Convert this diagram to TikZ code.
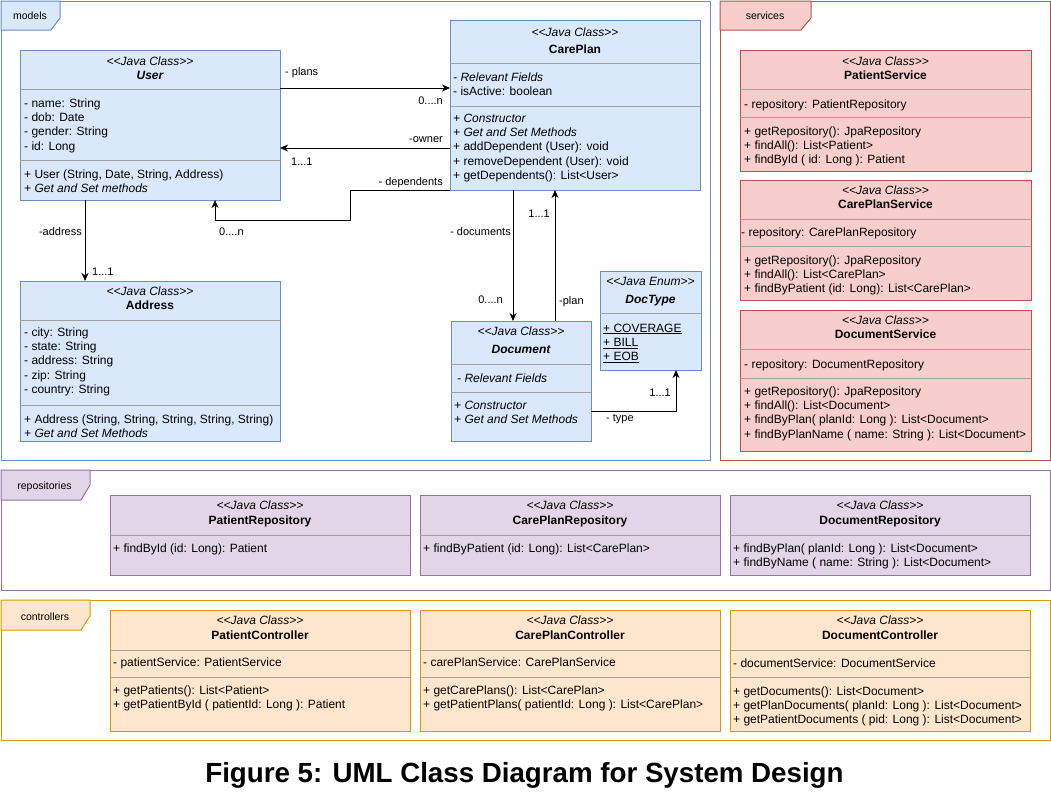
\documentclass[tikz,border=0pt]{standalone}
\usepackage{fontspec}
\setmainfont{Liberation Sans}[Ligatures=TeXOff]
\usepackage{tikz}
\usetikzlibrary{arrows.meta}
\definecolor{mfill}{HTML}{DAE8FC}
\definecolor{mline}{HTML}{6C8EBF}
\definecolor{sfill}{HTML}{F8CECC}
\definecolor{sline}{HTML}{B85450}
\definecolor{rfill}{HTML}{E1D5E7}
\definecolor{rline}{HTML}{9673A6}
\definecolor{cfill}{HTML}{FFE6CC}
\definecolor{cline}{HTML}{D79B00}
\definecolor{sepgray}{HTML}{A0A0A0}

\begin{document}
\begin{tikzpicture}[x=1pt, y=-1pt,
	pkg/.style={draw, line width=1pt, anchor=north west, inner sep=0, outer sep=0},
	pkgtab/.style={line width=1pt},
	pkglabel/.style={font=\fontsize{10.5}{12}\selectfont, inner sep=0},
	classbox/.style={draw, line width=1pt, anchor=north west, inner sep=0, outer sep=0},
	mbox/.style={classbox, fill=mfill, draw=mline},
	sbox/.style={classbox, fill=sfill, draw=sline},
	rbox/.style={classbox, fill=rfill, draw=rline},
	cbox/.style={classbox, fill=cfill, draw=cline},
	stereo/.style={font=\fontsize{12}{14.4}\selectfont\itshape, anchor=base, inner sep=0},
	cname/.style={font=\fontsize{12}{14.4}\selectfont\bfseries, anchor=base, inner sep=0},
	aname/.style={font=\fontsize{12}{14.4}\selectfont\bfseries\itshape, anchor=base, inner sep=0},
	member/.style={font=\fontsize{12}{14.4}\selectfont, anchor=base west, align=left, inner sep=0},
	sepline/.style={draw=sepgray, line width=1pt},
	role/.style={font=\fontsize{11}{13}\selectfont, inner sep=0},
	assoc/.style={line width=1pt, -{Stealth[length=8pt, width=7pt, inset=2.5pt]}}
]
\useasboundingbox (0,0) rectangle (1051,796);
\fill[white] (0,0) rectangle (1051,796);

% packages
\node[pkg, draw=mline, minimum width=709, minimum height=459] (models) at (1,1) {};
\node[pkg, draw=sline, minimum width=330, minimum height=459] (services) at (720,1) {};
\node[pkg, draw=rline, minimum width=1049, minimum height=120] (repos) at (1,470) {};
\node[pkg, draw=cline, minimum width=1049, minimum height=140] (ctrls) at (1,600) {};
\draw[pkgtab, fill=mfill, draw=mline] (models.north west) -- ++(59,0) -- ++(0,17) -- ++(-9,12) -- (models.west |- 0,30) -- cycle;
\draw[pkgtab, fill=sfill, draw=sline] (services.north west) -- ++(91,0) -- ++(0,17) -- ++(-10,12) -- (services.west |- 0,30) -- cycle;
\draw[pkgtab, fill=rfill, draw=rline] (repos.north west) -- ++(89,0) -- ++(0,15) -- ++(-9,15) -- (repos.west |- 0,500) -- cycle;
\draw[pkgtab, fill=cfill, draw=cline] (ctrls.north west) -- ++(89,0) -- ++(0,16) -- ++(-9,14) -- (ctrls.west |- 0,630) -- cycle;
\node[pkglabel] (models-lb) at (30,16) {models};
\node[pkglabel] (services-lb) at (765,16) {services};
\node[pkglabel] (repos-lb) at (44.5,487) {repositories};
\node[pkglabel] (ctrls-lb) at (45,617) {controllers};

% models (member nodes sit on their last baseline)
\node[mbox, minimum width=260, minimum height=150] (user) at (20,50) {};
\node[stereo] (user-st) at (150,65) {<<Java Class>>};
\node[aname] (user-nm) at (150,79) {User};
\draw[sepline] (user.west |- 0,89) -- (user.east |- 0,89);
\draw[sepline] (user.west |- 0,160) -- (user.east |- 0,160);
\node[member] (user-at) at (24,150.2) {- name: String\\- dob: Date\\- gender: String\\- id: Long};
\node[member] (user-op) at (24,192.4) {+ User (String, Date, String, Address)\\\textit{+ Get and Set methods}};

\node[mbox, minimum width=250, minimum height=170] (careplan) at (450,20) {};
\node[stereo] (careplan-st) at (575,36) {<<Java Class>>};
\node[cname] (careplan-nm) at (575,53) {CarePlan};
\draw[sepline] (careplan.west |- 0,63) -- (careplan.east |- 0,63);
\draw[sepline] (careplan.west |- 0,106) -- (careplan.east |- 0,106);
\node[member] (careplan-at) at (453,95.4) {\textit{- Relevant Fields}\\- isActive: boolean};
\node[member] (careplan-op) at (453,179.6) {\textit{+ Constructor}\\\textit{+ Get and Set Methods}\\+ addDependent (User): void\\+ removeDependent (User): void\\+ getDependents(): List<User>};

\node[mbox, minimum width=260, minimum height=160] (address) at (20,281) {};
\node[stereo] (address-st) at (150,295) {<<Java Class>>};
\node[cname] (address-nm) at (150,309) {Address};
\draw[sepline] (address.west |- 0,320) -- (address.east |- 0,320);
\draw[sepline] (address.west |- 0,405) -- (address.east |- 0,405);
\node[member] (address-at) at (24,393.6) {- city: String\\- state: String\\- address: String\\- zip: String\\- country: String};
\node[member] (address-op) at (24,437.4) {+ Address (String, String, String, String, String)\\\textit{+ Get and Set Methods}};

\node[mbox, minimum width=140, minimum height=120] (document) at (451,321) {};
\node[stereo] (document-st) at (521,335) {<<Java Class>>};
\node[aname] (document-nm) at (521,353) {Document};
\draw[sepline] (document.west |- 0,364) -- (document.east |- 0,364);
\draw[sepline] (document.west |- 0,392) -- (document.east |- 0,392);
\node[member] (document-at) at (457,382) {\textit{- Relevant Fields}};
\node[member] (document-op) at (454,423.4) {\textit{+ Constructor}\\\textit{+ Get and Set Methods}};

\node[mbox, minimum width=101, minimum height=99] (doctype) at (600,271) {};
\node[stereo] (doctype-st) at (650.5,285) {<<Java Enum>>};
\node[aname] (doctype-nm) at (650.5,303) {DocType};
\draw[sepline] (doctype.west |- 0,313) -- (doctype.east |- 0,313);
\node[member] (doctype-at) at (603,360.8) {\underline{+ COVERAGE}\\\underline{+ BILL}\\\underline{+ EOB}};

% services
\node[sbox, minimum width=291, minimum height=121] (patsrv) at (740,50) {};
\node[stereo] (patsrv-st) at (885.5,65) {<<Java Class>>};
\node[cname] (patsrv-nm) at (885.5,79) {PatientService};
\draw[sepline] (patsrv.west |- 0,89) -- (patsrv.east |- 0,89);
\draw[sepline] (patsrv.west |- 0,117) -- (patsrv.east |- 0,117);
\node[member] (patsrv-at) at (744,108) {- repository: PatientRepository};
\node[member] (patsrv-op) at (744,163.8) {+ getRepository(): JpaRepository\\+ findAll(): List<Patient>\\+ findById ( id: Long ): Patient};

\node[sbox, minimum width=291, minimum height=120] (plansrv) at (740,180) {};
\node[stereo] (plansrv-st) at (885.5,194) {<<Java Class>>};
\node[cname] (plansrv-nm) at (885.5,208) {CarePlanService};
\draw[sepline] (plansrv.west |- 0,219) -- (plansrv.east |- 0,219);
\draw[sepline] (plansrv.west |- 0,246) -- (plansrv.east |- 0,246);
\node[member] (plansrv-at) at (741,236) {- repository: CarePlanRepository};
\node[member] (plansrv-op) at (744,292.8) {+ getRepository(): JpaRepository\\+ findAll(): List<CarePlan>\\+ findByPatient (id: Long): List<CarePlan>};

\node[sbox, minimum width=291, minimum height=141] (docsrv) at (740,310) {};
\node[stereo] (docsrv-st) at (885.5,324) {<<Java Class>>};
\node[cname] (docsrv-nm) at (885.5,338) {DocumentService};
\draw[sepline] (docsrv.west |- 0,349) -- (docsrv.east |- 0,349);
\draw[sepline] (docsrv.west |- 0,378) -- (docsrv.east |- 0,378);
\node[member] (docsrv-at) at (744,368) {- repository: DocumentRepository};
\node[member] (docsrv-op) at (744,438.2) {+ getRepository(): JpaRepository\\+ findAll(): List<Document>\\+ findByPlan( planId: Long ): List<Document>\\+ findByPlanName ( name: String ): List<Document>};

% repositories
\node[rbox, minimum width=300, minimum height=80] (patrepo) at (110,495) {};
\node[stereo] (patrepo-st) at (260,509) {<<Java Class>>};
\node[cname] (patrepo-nm) at (260,524) {PatientRepository};
\draw[sepline] (patrepo.west |- 0,535) -- (patrepo.east |- 0,535);
\node[member] (patrepo-op) at (113,552) {+ findById (id: Long): Patient};

\node[rbox, minimum width=300, minimum height=80] (planrepo) at (420,495) {};
\node[stereo] (planrepo-st) at (570,509) {<<Java Class>>};
\node[cname] (planrepo-nm) at (570,524) {CarePlanRepository};
\draw[sepline] (planrepo.west |- 0,535) -- (planrepo.east |- 0,535);
\node[member] (planrepo-op) at (423,552) {+ findByPatient (id: Long): List<CarePlan>};

\node[rbox, minimum width=300, minimum height=80] (docrepo) at (730,495) {};
\node[stereo] (docrepo-st) at (880,509) {<<Java Class>>};
\node[cname] (docrepo-nm) at (880,524) {DocumentRepository};
\draw[sepline] (docrepo.west |- 0,535) -- (docrepo.east |- 0,535);
\node[member] (docrepo-op) at (733,566.4) {+ findByPlan( planId: Long ): List<Document>\\+ findByName ( name: String ): List<Document>};

% controllers
\node[cbox, minimum width=300, minimum height=121] (patctrl) at (110,610) {};
\node[stereo] (patctrl-st) at (260,624) {<<Java Class>>};
\node[cname] (patctrl-nm) at (260,639) {PatientController};
\draw[sepline] (patctrl.west |- 0,650) -- (patctrl.east |- 0,650);
\draw[sepline] (patctrl.west |- 0,677) -- (patctrl.east |- 0,677);
\node[member] (patctrl-at) at (113,666) {- patientService: PatientService};
\node[member] (patctrl-op) at (113,708.4) {+ getPatients(): List<Patient>\\+ getPatientById ( patientId: Long ): Patient};

\node[cbox, minimum width=300, minimum height=121] (planctrl) at (420,610) {};
\node[stereo] (planctrl-st) at (570,624) {<<Java Class>>};
\node[cname] (planctrl-nm) at (570,639) {CarePlanController};
\draw[sepline] (planctrl.west |- 0,650) -- (planctrl.east |- 0,650);
\draw[sepline] (planctrl.west |- 0,677) -- (planctrl.east |- 0,677);
\node[member] (planctrl-at) at (423,666) {- carePlanService: CarePlanService};
\node[member] (planctrl-op) at (423,708.4) {+ getCarePlans(): List<CarePlan>\\+ getPatientPlans( patientId: Long ): List<CarePlan>};

\node[cbox, minimum width=300, minimum height=121] (docctrl) at (730,610) {};
\node[stereo] (docctrl-st) at (880,624) {<<Java Class>>};
\node[cname] (docctrl-nm) at (880,639) {DocumentController};
\draw[sepline] (docctrl.west |- 0,650) -- (docctrl.east |- 0,650);
\draw[sepline] (docctrl.west |- 0,677) -- (docctrl.east |- 0,677);
\node[member] (docctrl-at) at (733,667) {- documentService: DocumentService};
\node[member] (docctrl-op) at (733,723.8) {+ getDocuments(): List<Document>\\+ getPlanDocuments( planId: Long ): List<Document>\\+ getPatientDocuments ( pid: Long ): List<Document>};

% associations
\draw[assoc] (user.east |- 0,88) -- (careplan.west |- 0,88);
\draw[assoc] (careplan.west |- 0,148) -- (user.east |- 0,148);
\draw[assoc] (careplan.south west) -- (350,190) |- (215,220) -- (user.south -| 215,0);
\draw[assoc] (user.south -| 85,0) -- (address.north -| 85,0);
\draw[assoc] (careplan.south -| 513,0) -- (document.north -| 513,0);
\draw[assoc] (document.north -| 555,0) -- (careplan.south -| 555,0);
\draw[assoc] (document.east |- 0,411) -| (doctype.south -| 676,0);

\node[role, anchor=base west] (plans-r) at (285,75) {- plans};
\node[role, anchor=base east] (plans-m) at (443,104) {0....n};
\node[role, anchor=base east] (owner-r) at (443,142) {-owner};
\node[role, anchor=base west] (owner-m) at (291,165) {1...1};
\node[role, anchor=base east] (deps-r) at (443,185) {- dependents};
\node[role, anchor=base west] (deps-m) at (219,235) {0....n};
\node[role, anchor=base east] (addr-r) at (82,235) {-address};
\node[role, anchor=base west] (addr-m) at (92,275) {1...1};
\node[role, anchor=base east] (docs-r) at (511,235) {- documents};
\node[role, anchor=base east] (docs-m) at (503,303) {0....n};
\node[role, anchor=base west] (plan-r) at (559,304) {-plan};
\node[role, anchor=base east] (plan-m) at (550,217) {1...1};
\node[role, anchor=base west] (type-r) at (606,421) {- type};
\node[role, anchor=base east] (type-m) at (671,396) {1...1};

\node[font=\fontsize{27.7}{30}\selectfont\bfseries, anchor=base, inner sep=0] (caption) at (524.5,782) {Figure 5: UML Class Diagram for System Design};
\end{tikzpicture}
\end{document}
